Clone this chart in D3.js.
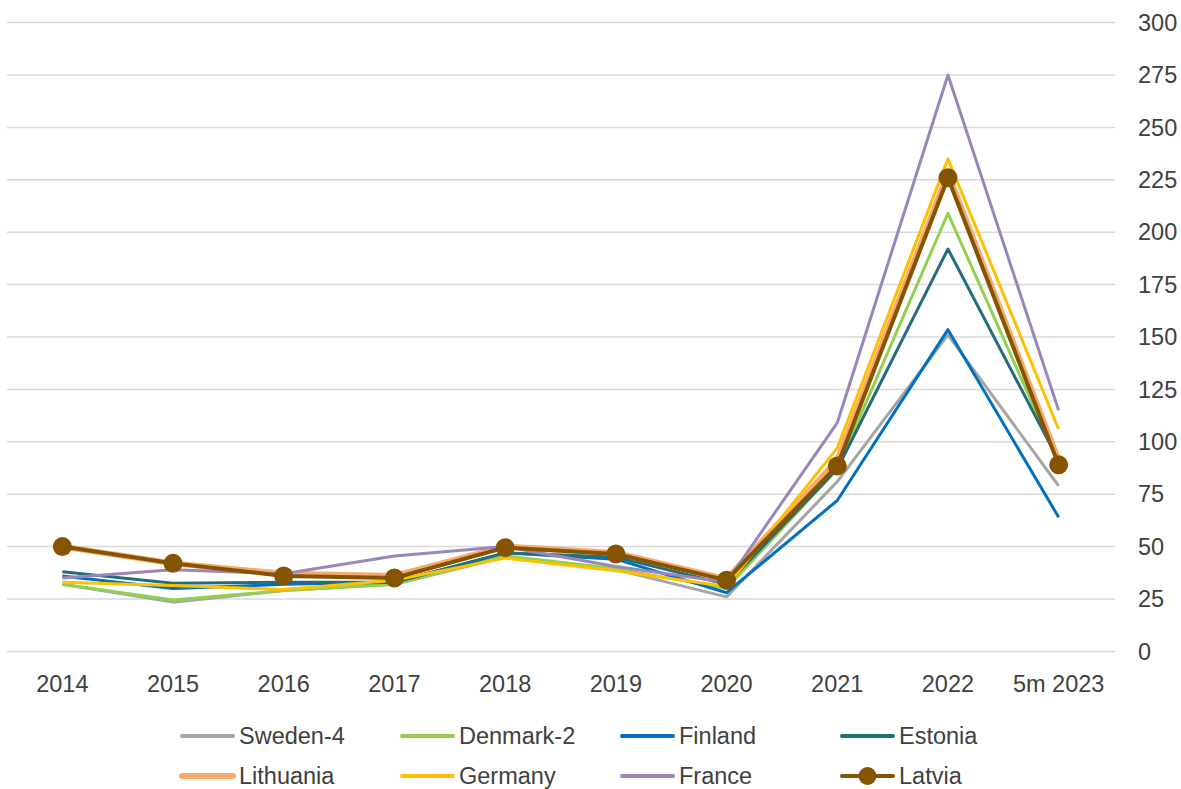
<!DOCTYPE html>
<html lang="en">
  <head>
    <title>Prices 2014 - 5m 2023</title>
    <script src="https://d3js.org/d3.v7.min.js"></script>
    <style>
      body { margin: 0; background: #fff; }
      text { font-family: "Liberation Sans", Arial, sans-serif; fill: #404040; }
    </style>
  </head>
  <body>
    <div id="chart"></div>
    <script>
      const years = ["2014", "2015", "2016", "2017", "2018", "2019", "2020", "2021", "2022", "5m 2023"];
      const yTicks = [0, 25, 50, 75, 100, 125, 150, 175, 200, 225, 250, 275, 300];

      const sweden = [32, 23.5, 29, 32, 45, 39, 26, 81, 151, 79];
      const denmark = [32, 24.5, 29, 32, 45.5, 39.5, 30, 87, 209, 90];
      const finland = [36, 30, 32, 33, 47, 44, 28, 72, 153.5, 64];
      const estonia = [38, 32.5, 33, 33, 47, 45, 32, 87, 192, 91];
      const lithuania = [50, 42, 37, 36, 50, 47, 34.5, 91, 228, 91];
      const germany = [33, 31.5, 29.5, 34, 44.5, 38.5, 31, 97, 235, 106];
      const france = [35, 39, 37, 45.5, 50, 40.5, 33, 109, 275, 115];
      const latvia = [50, 42, 36, 35, 49.5, 46.5, 34, 88.5, 226, 89];

      const series = [
        { name: "Sweden-4", values: sweden, color: "#a5a5a5", width: 3 },
        { name: "Denmark-2", values: denmark, color: "#92d050", width: 3 },
        { name: "Finland", values: finland, color: "#0070c0", width: 3 },
        { name: "Estonia", values: estonia, color: "#256d7b", width: 3 },
        { name: "Lithuania", values: lithuania, color: "#f8a96c", width: 6 },
        { name: "Germany", values: germany, color: "#ffc000", width: 3 },
        { name: "France", values: france, color: "#9a86ba", width: 3 },
        { name: "Latvia", values: latvia, color: "#855400", width: 4, dots: true }
      ];

      const width = 1181;
      const height = 789;

      const svg = d3
        .select("#chart")
        .append("svg")
        .attr("width", width)
        .attr("height", height);

      const x = d3.scalePoint().domain(years).range([7, 1114]).padding(0.5);
      const y = d3.scaleLinear().domain([0, 300]).range([651.4, 22.6]);

      // grid lines + right-hand labels
      svg
        .selectAll(".grid")
        .data(yTicks)
        .enter()
        .append("line")
        .attr("x1", 7)
        .attr("x2", 1115)
        .attr("y1", (d) => y(d))
        .attr("y2", (d) => y(d))
        .attr("stroke", "#d9d9d9")
        .attr("stroke-width", 1.5);

      svg
        .selectAll(".ylab")
        .data(yTicks)
        .enter()
        .append("text")
        .attr("x", 1138)
        .attr("y", (d) => y(d))
        .attr("dy", "0.35em")
        .style("font-size", "23.5px")
        .text((d) => d);

      svg
        .selectAll(".xlab")
        .data(years)
        .enter()
        .append("text")
        .attr("x", (d) => x(d))
        .attr("y", 692)
        .attr("text-anchor", "middle")
        .style("font-size", "23.5px")
        .text((d) => d);

      const line = d3
        .line()
        .x((d, i) => x(years[i]))
        .y((d) => y(d));

      series.forEach(function (s) {
        svg
          .append("path")
          .attr("d", line(s.values))
          .attr("fill", "none")
          .attr("stroke", s.color)
          .attr("stroke-width", s.width)
          .attr("stroke-linejoin", "round");

        if (s.dots) {
          svg
            .selectAll(".dot")
            .data(s.values)
            .enter()
            .append("circle")
            .attr("cx", (d, i) => x(years[i]))
            .attr("cy", (d) => y(d))
            .attr("r", 9.5)
            .attr("fill", s.color);
        }
      });

      // legend
      const legend = svg
        .selectAll(".legend")
        .data(series)
        .enter()
        .append("g")
        .attr("transform", function (d, i) {
          return "translate(" + (182 + (i % 4) * 220) + "," + (736 + Math.floor(i / 4) * 40) + ")";
        });

      legend
        .append("line")
        .attr("x1", 0)
        .attr("x2", 51)
        .attr("stroke", (d) => d.color)
        .attr("stroke-width", (d) => (d.name === "Lithuania" ? 6 : 4))
        .attr("stroke-linecap", "round");

      legend
        .filter((d) => d.dots)
        .append("circle")
        .attr("cx", 25.5)
        .attr("r", 9)
        .attr("fill", (d) => d.color);

      legend
        .append("text")
        .attr("x", 57)
        .attr("dy", "0.35em")
        .style("font-size", "23.5px")
        .text((d) => d.name);
    </script>
  </body>
</html>
